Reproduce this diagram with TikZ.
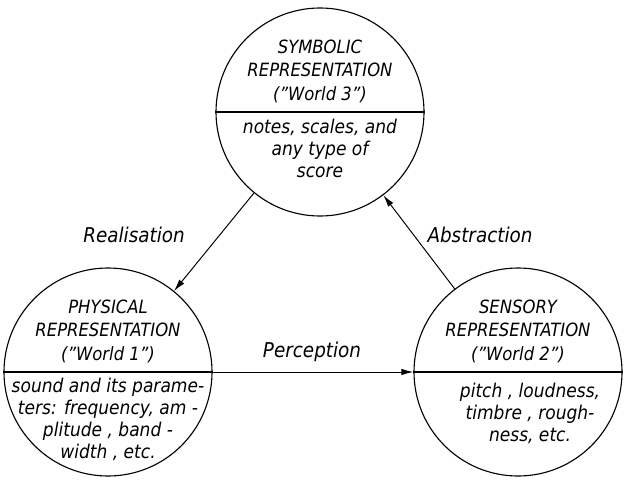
\documentclass[tikz,border=0pt]{standalone}
\usepackage{fontspec}
\setsansfont{DejaVu Sans Condensed}
\usepackage{tikz}
\usetikzlibrary{positioning,arrows.meta}

\begin{document}
\begin{tikzpicture}[
    world/.style={circle,draw,line width=0.8pt,minimum size=5.2cm,inner sep=0pt},
    rep/.style={font=\sffamily\itshape\fontsize{13}{17}\selectfont,align=center,inner sep=0pt},
    detail/.style={font=\sffamily\itshape\fontsize{13.5}{15.6}\selectfont,align=center,inner sep=0pt},
    linktext/.style={font=\sffamily\itshape\fontsize{14.5}{16}\selectfont,inner sep=1pt},
    link/.style={-{Latex[length=3mm,width=1.6mm]},line width=0.7pt}
]
    \useasboundingbox (0,0) rectangle (15.6,12);

    \node[world] (sym) at (8.0,9.2) {};
    \node[world] (phy) at (2.7,2.7) {};
    \node[world] (sen) at (12.95,2.7) {};

    \draw[line width=0.8pt] (sym.west) -- (sym.east);
    \draw[line width=0.8pt] (phy.west) -- (phy.east);
    \draw[line width=0.8pt] (sen.west) -- (sen.east);

    \node[rep,above=6pt of sym.center] (symhead) {SYMBOLIC\\REPRESENTATION\\("World 3")};
    \node[detail,below=5pt of sym.center] (symbody) {notes, scales, and\\any type of\\score};

    \node[rep,above=6pt of phy.center] (phyhead) {PHYSICAL\\REPRESENTATION\\("World 1")};
    \node[detail,below=4pt of phy.center] (phybody) {sound and its parame-\\ters: frequency, am -\\plitude , band -\\width , etc.};

    \node[rep,above=6pt of sen.center] (senhead) {SENSORY\\REPRESENTATION\\("World 2")};
    \node[detail,below=8pt of sen.center,xshift=3mm] (senbody) {pitch , loudness,\\timbre , rough-\\ness, etc.};

    \draw[link] (sym) -- (phy);
    \draw[link] (sen) -- (sym);
    \draw[link] (phy) -- (sen);

    \node[linktext] (real) at (3.35,6.12) {Realisation};
    \node[linktext] (abst) at (12.0,6.12) {Abstraction};
    \node[linktext] (perc) at (7.8,3.2) {Perception};
\end{tikzpicture}
\end{document}
